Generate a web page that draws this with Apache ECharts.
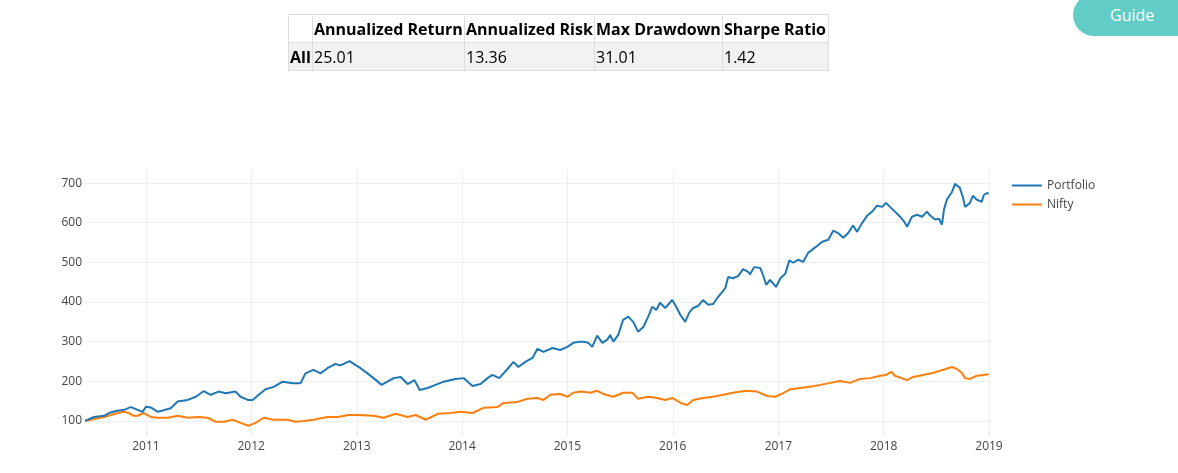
<!DOCTYPE html>
<html>
<head>
<meta charset="utf-8">
<script src="https://cdn.jsdelivr.net/npm/echarts@6/dist/echarts.min.js"></script>
<style>
  html, body { margin: 0; padding: 0; background: #fff; width: 1178px; height: 473px; overflow: hidden; font-family: "Open Sans", sans-serif; }
  #chart { position: absolute; left: 0; top: 0; width: 1178px; height: 473px; }
  #stats { position: absolute; left: 288px; top: 14px; border-collapse: collapse; font-family: "Open Sans", sans-serif; font-size: 16px; color: #000; z-index: 2; table-layout: fixed; }
  #stats td, #stats th { border: 1px solid #ddd; height: 27px; padding: 0 0 0 1px; text-align: left; white-space: nowrap; line-height: 20px; overflow: visible; }
  #stats th { font-weight: bold; background: #fff; }
  #stats tr.data td { background: #f2f2f2; }
  #stats td.rowhead { font-weight: bold; }
  #guide { position: absolute; left: 1073px; top: -6px; width: 140px; height: 42px; border-radius: 21px; background: #62cdc6; color: #fff; font-family: "Open Sans", sans-serif; font-size: 16px; line-height: 43px; padding-left: 37px; box-sizing: border-box; z-index: 2; }
</style>
</head>
<body>
<div id="chart"></div>
<table id="stats"></table>
<div id="guide">Guide</div>
<script>
const statHeaders = ['', 'Annualized Return', 'Annualized Risk', 'Max Drawdown', 'Sharpe Ratio'];
const statColWidths = [22, 150, 128, 126, 104];
const statRowLabel = 'All';
const statValues = ['25.01', '13.36', '31.01', '1.42'];

const yTicks = [100, 200, 300, 400, 500, 600, 700];
const yearTicks = ['2011-01-01','2012-01-01','2013-01-01','2014-01-01','2015-01-01','2016-01-01','2017-01-01','2018-01-01','2019-01-01'];
const seriesNames = ['Portfolio', 'Nifty'];

const portfolioDates = [
'2010-06-04','2010-07-05','2010-08-09','2010-08-26','2010-09-19','2010-10-17','2010-11-10','2010-12-04','2010-12-21',
'2011-01-01','2011-01-18','2011-02-11','2011-03-04','2011-03-28','2011-04-21','2011-05-26','2011-06-23','2011-07-20','2011-08-14','2011-09-10','2011-10-05','2011-11-08','2011-11-25','2011-12-20',
'2012-01-06','2012-01-27','2012-02-20','2012-03-19','2012-04-19','2012-05-24','2012-06-20','2012-07-07','2012-08-04','2012-08-28','2012-09-21','2012-10-19','2012-11-05','2012-12-07','2012-12-28',
'2013-01-14','2013-02-07','2013-02-28','2013-03-28','2013-04-17','2013-05-09','2013-06-02','2013-06-26','2013-07-20','2013-08-07','2013-09-03','2013-10-01','2013-10-29','2013-12-09',
'2014-01-06','2014-02-06','2014-03-06','2014-03-30','2014-04-16','2014-05-10','2014-06-07','2014-06-28','2014-07-15','2014-08-08','2014-09-02','2014-09-19','2014-10-10','2014-11-10','2014-12-07',
'2015-01-01','2015-01-21','2015-02-11','2015-02-25','2015-03-14','2015-03-28','2015-04-14','2015-05-02','2015-05-19','2015-05-29','2015-06-09','2015-06-26','2015-07-13','2015-07-31','2015-08-17','2015-09-03','2015-09-21','2015-10-08','2015-10-22','2015-11-05','2015-11-18','2015-12-06','2015-12-30',
'2016-01-13','2016-01-27','2016-02-13','2016-02-27','2016-03-12','2016-03-29','2016-04-15','2016-05-03','2016-05-20','2016-06-03','2016-06-20','2016-07-01','2016-07-11','2016-07-28','2016-08-15','2016-09-01','2016-09-18','2016-09-25','2016-10-09','2016-10-30','2016-11-09','2016-11-20','2016-12-03','2016-12-24',
'2017-01-08','2017-01-25','2017-02-08','2017-02-22','2017-03-11','2017-03-28','2017-04-14','2017-05-02','2017-05-16','2017-06-02','2017-06-23','2017-07-10','2017-07-27','2017-08-14','2017-08-31','2017-09-17','2017-10-01','2017-10-18','2017-11-05','2017-11-22','2017-12-09','2017-12-27',
'2018-01-09','2018-01-23','2018-02-09','2018-02-27','2018-03-13','2018-03-23','2018-04-09','2018-04-27','2018-05-14','2018-05-31','2018-06-11','2018-06-28','2018-07-12','2018-07-22','2018-07-29','2018-08-08','2018-08-26','2018-09-05','2018-09-22','2018-10-03','2018-10-10','2018-10-27','2018-11-06','2018-11-20','2018-12-07','2018-12-14','2018-12-25','2018-12-31'
];
const portfolioValues = [
100,110,113,120,125,128,135,128,123,
136,134,123,127,132,149,153,161,175,166,174,170,174,161,153,
153,166,180,186,199,195,195,220,229,220,233,244,240,251,241,
233,220,208,191,199,208,211,193,203,178,183,191,199,206,
208,188,193,208,216,208,231,249,236,249,259,282,274,284,279,
287,297,300,300,297,287,315,297,305,317,300,317,355,363,350,325,337,363,388,380,398,385,405,
388,368,350,373,385,390,405,393,395,410,425,435,463,460,466,483,476,470,488,486,468,443,456,438,
460,471,505,499,507,501,524,534,542,552,557,580,574,562,574,593,577,599,618,628,643,640,
650,640,628,615,603,590,615,620,615,628,618,608,610,595,633,658,678,698,688,663,640,650,668,658,653,670,675,673
];

const niftyDates = [
'2010-06-04','2010-07-05','2010-08-09','2010-09-02','2010-09-26','2010-10-17','2010-11-03','2010-11-20','2010-12-04','2010-12-25',
'2011-01-18','2011-02-11','2011-03-18','2011-04-21','2011-05-26','2011-06-30','2011-08-03','2011-08-31','2011-09-28','2011-10-29','2011-11-25','2011-12-23',
'2012-01-16','2012-02-13','2012-03-19','2012-05-06','2012-06-03','2012-07-01','2012-08-04','2012-09-21','2012-10-27','2012-12-03',
'2013-01-04','2013-02-28','2013-04-04','2013-05-16','2013-06-26','2013-07-24','2013-08-28','2013-10-08','2013-11-22','2013-12-26',
'2014-02-06','2014-03-16','2014-05-03','2014-05-24','2014-07-12','2014-08-15','2014-09-19','2014-10-10','2014-11-03','2014-12-07',
'2015-01-01','2015-01-21','2015-02-15','2015-03-21','2015-04-14','2015-05-05','2015-06-09','2015-07-13','2015-08-14','2015-09-03','2015-10-08','2015-11-08','2015-12-06','2015-12-30',
'2016-01-27','2016-02-20','2016-03-12','2016-04-15','2016-05-20','2016-06-24','2016-07-28','2016-09-08','2016-10-19','2016-11-23','2016-12-21',
'2017-01-18','2017-02-11','2017-03-18','2017-04-21','2017-05-26','2017-06-30','2017-08-03','2017-09-07','2017-10-11','2017-11-15','2017-12-20',
'2018-01-09','2018-01-27','2018-02-09','2018-03-23','2018-04-13','2018-05-17','2018-06-20','2018-07-26','2018-08-26','2018-09-12','2018-09-29','2018-10-10','2018-10-27','2018-11-20','2018-12-11','2018-12-31'
];
const niftyValues = [
100,105,110,115,120,123,120,113,113,120,
110,108,108,113,108,110,108,98,98,103,95,88,
95,108,103,103,98,100,103,110,110,115,
115,113,108,118,110,115,103,118,120,123,
120,133,135,145,148,156,158,153,166,168,
161,171,174,171,176,168,161,171,171,156,161,158,153,158,
146,140,153,158,161,166,171,176,174,163,161,
170,180,183,186,191,196,201,196,206,208,214,
216,224,214,203,211,216,221,229,236,231,221,208,206,214,216,218
];

// ---- stats table ----
(function buildTable() {
  const t = document.getElementById('stats');
  let html = '<tr>';
  statHeaders.forEach((h, i) => { html += '<th style="width:' + statColWidths[i] + 'px">' + h + '</th>'; });
  html += '</tr><tr class="data"><td class="rowhead">' + statRowLabel + '</td>';
  statValues.forEach(v => { html += '<td>' + v + '</td>'; });
  html += '</tr>';
  t.innerHTML = html;
})();

// ---- chart ----
const chart = echarts.init(document.getElementById('chart'), null, { renderer: 'canvas' });
const ts = s => Date.parse(s);
const zip = (d, v) => d.map((x, i) => [ts(x), v[i]]);
const yearTickValues = yearTicks.map(ts);
const font = '"Open Sans", sans-serif';

chart.setOption({
  animation: false,
  color: ['#1f77b4', '#ff7f0e'],
  grid: { left: 85, right: 189, top: 170, bottom: 37, containLabel: false },
  legend: {
    orient: 'vertical', left: 1007, top: 174,
    icon: 'rect', itemWidth: 30, itemHeight: 2, itemGap: 6,
    textStyle: { color: '#444', fontSize: 12, fontFamily: font, lineHeight: 13 },
    data: seriesNames
  },
  tooltip: { trigger: 'axis' },
  xAxis: {
    type: 'value',
    min: ts('2010-06-04'),
    max: ts('2019-01-01'),
    axisLine: { show: false },
    axisTick: { show: false, customValues: yearTickValues },
    splitLine: { show: true, lineStyle: { color: '#eee', width: 1 } },
    axisLabel: {
      customValues: yearTickValues,
      color: '#444', fontSize: 12, fontFamily: font, margin: 5,
      formatter: v => String(new Date(v).getUTCFullYear())
    }
  },
  yAxis: {
    type: 'value',
    min: 62,
    max: 733,
    axisLine: { show: false },
    axisTick: { show: false, customValues: yTicks },
    splitLine: { show: true, lineStyle: { color: '#eee', width: 1 } },
    axisLabel: { customValues: yTicks, color: '#444', fontSize: 12, fontFamily: font, margin: 3 }
  },
  series: [
    { name: seriesNames[0], type: 'line', showSymbol: false, data: zip(portfolioDates, portfolioValues), lineStyle: { width: 2 }, z: 3 },
    { name: seriesNames[1], type: 'line', showSymbol: false, data: zip(niftyDates, niftyValues), lineStyle: { width: 2 }, z: 2 }
  ]
});
</script>
</body>
</html>
